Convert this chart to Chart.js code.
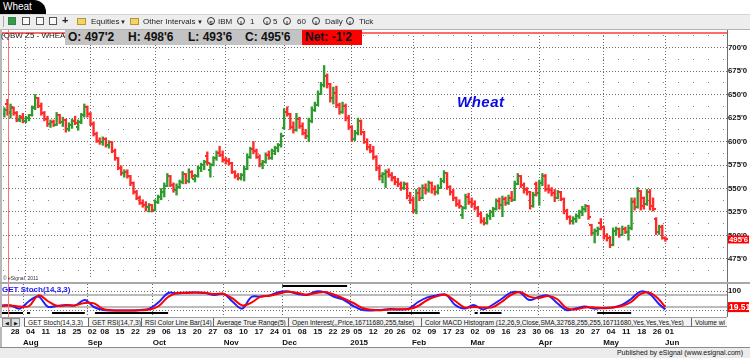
<!DOCTYPE html>
<html lang="en">
<head>
<meta charset="UTF-8">
<title>Wheat - Daily</title>
<style>
    body {
        margin: 0;
        width: 750px;
        height: 358px;
        position: relative;
        overflow: hidden;
        background: #fff;
        font-family: "Liberation Sans", Arial, sans-serif;
    }
    .abs { position: absolute; }
    #tab {
        left: 0; top: 0; width: 46px; height: 14px;
        background: #000; color: #fff;
        border-top-right-radius: 12px;
        font-size: 10px; line-height: 14px; padding-left: 3px; box-sizing: border-box;
    }
    #toolbar {
        left: 0; top: 14px; width: 750px; height: 16px; box-sizing: border-box;
        background: #ededed; border-top: 1px solid #d6d6d6; border-bottom: 1px solid #b4b4b4;
        font-size: 8px; color: #222;
    }
    #toolbar span { position: absolute; top: 2px; line-height: 10px; white-space: nowrap; }
    .ico { width: 8px; height: 8px; border: 1px solid #555; background: #fafafa; box-sizing: border-box; }
    .fold { width: 9px; height: 7px; background: #f3d36b; border: 1px solid #b8962c; box-sizing: border-box; margin-top: 1px; }
    .circ { width: 8px; height: 8px; border: 1px solid #333; border-radius: 50%; box-sizing: border-box;
            font-size: 5.5px; line-height: 6px; text-align: center; font-weight: bold; }
    #hdrName { left: 1px; top: 31px; font-size: 8px; color: #222; }
    #ohlcBox { left: 65px; top: 30px; width: 237px; height: 15px; background: #c3c3c3; }
    #netBox { left: 302px; top: 30px; width: 60px; height: 15px; background: #ff0000; }
    .hv { position: absolute; top: 30px; font-size: 12px; font-weight: bold; line-height: 15px; color: #111; white-space: nowrap; }
    #title { left: 457px; top: 93px; font-size: 15px; font-weight: bold; font-style: italic; color: #0a0ae6; letter-spacing: 0.5px; }
    #copy { left: 3px; top: 275px; font-size: 5px; color: #333; }
    #stochName { left: 2px; top: 285px; font-size: 8px; font-weight: bold; color: #1a1aff; }
    #tabbar {
        left: 0; top: 317px; width: 727px; height: 10px; box-sizing: border-box;
        background: #f3f3f3; border-top: 1px solid #a0a0a0; font-size: 6.6px; color: #111;
    }
    #tabbar span { position: absolute; top: 0; height: 9px; line-height: 9px; white-space: nowrap; overflow: hidden; box-sizing: border-box; }
    .nav { width: 9px; border: 1px solid #888; background: #ddd; font-size: 5px; text-align: center; }
    .tb { border-left: 1px solid #666; border-bottom: 1px solid #888; padding-left: 3px; }
    .sel { background: #fff; }
    #footer {
        left: 0; top: 347px; width: 750px; height: 11px; box-sizing: border-box;
        background: #ececec; border-top: 1px solid #8a8a8a;
        font-size: 7px; color: #111; text-align: right; padding-right: 7px; line-height: 10px;
    }
</style>
<script src="https://cdn.jsdelivr.net/npm/chart.js"></script>
</head>
<body>
    <canvas id="priceChart" class="abs" width="750" height="252" style="left:0;top:30px"></canvas>
    <canvas id="stochChart" class="abs" width="750" height="63" style="left:0;top:284px"></canvas>

    <div id="tab" class="abs">Wheat</div>
    <div id="toolbar" class="abs">
        <span style="left:3px;top:1px;width:1px;height:11px;background:#aaa"></span>
        <span class="ico" style="left:8px;background:#3c9a3c;border-color:#285"></span>
        <span class="ico" style="left:22px"></span>
        <span class="ico" style="left:36px"></span>
        <span class="ico" style="left:49px"></span>
        <span style="left:62px;font-size:11px;font-weight:bold;top:0">+</span>
        <span class="fold" style="left:77px"></span>
        <span style="left:91px">Equities</span>
        <span style="left:120px;font-size:6px">&#9660;</span>
        <span class="fold" style="left:130px"></span>
        <span style="left:143px">Other Intervals</span>
        <span style="left:197px;font-size:6px">&#9660;</span>
        <span class="circ" style="left:207px">S</span>
        <span style="left:218px">IBM</span>
        <span class="circ" style="left:237px">I</span>
        <span style="left:250px">1</span>
        <span class="circ" style="left:263px">I</span>
        <span style="left:273px">5</span>
        <span class="circ" style="left:283px">I</span>
        <span style="left:297px">60</span>
        <span class="circ" style="left:312px">I</span>
        <span style="left:325px">Daily</span>
        <span class="circ" style="left:346px">I</span>
        <span style="left:359px">Tick</span>
    </div>

    <div class="abs" style="left:0;top:32px;width:727px;height:1.5px;background:#ff6a6a"></div>
    <div class="abs" style="left:7.5px;top:30px;width:1.5px;height:287px;background:#ff7272"></div>
    <div class="abs" style="left:0;top:29px;width:2px;height:318px;background:#b8b8b8"></div>
    <div class="abs" style="left:727px;top:30px;width:1px;height:287px;background:#6e6e6e"></div>
    <div class="abs" style="left:0;top:282px;width:750px;height:2px;background:#a8a8a8"></div>

    <div id="hdrName" class="abs">(QBW Z5 - WHEAT</div>
    <div id="ohlcBox" class="abs"></div>
    <div id="netBox" class="abs"></div>
    <div id="hO" class="hv" style="left:68px"></div>
    <div id="hH" class="hv" style="left:128px"></div>
    <div id="hL" class="hv" style="left:188px"></div>
    <div id="hC" class="hv" style="left:245px"></div>
    <div id="hN" class="hv" style="left:305px"></div>

    <div id="title" class="abs">Wheat</div>
    <div id="copy" class="abs">&copy; eSignal, 2011</div>
    <div id="stochName" class="abs">GET Stoch(14,3,3)</div>

    <div id="tabbar" class="abs">
        <span class="nav" style="left:2px">&#9664;</span>
        <span class="nav" style="left:11px">&#9654;</span>
        <span class="tb sel" style="left:24px;width:64px">GET Stoch(14,3,3)</span>
        <span class="tb" style="left:88px;width:53px">GET RSI(14,7,3)</span>
        <span class="tb" style="left:141px;width:72px">RSI Color Line Bar(14)</span>
        <span class="tb" style="left:213px;width:75px">Average True Range(5)</span>
        <span class="tb" style="left:288px;width:133px">Open Interest(,,Price,16711680,255,false)</span>
        <span class="tb" style="left:421px;width:270px">Color MACD Histogram (12,26,9,Close,SMA,32768,255,255,16711680,Yes,Yes,Yes,Yes)</span>
        <span class="tb" style="left:691px;width:36px">Volume wi</span>
    </div>
    <div id="footer" class="abs">Published by eSignal (www.esignal.com)</div>

    <script>
        // daily bars, Jul 23 2014 .. Jun 01 2015 (index = trading day)
        const opens = [629,640,630,636,630,623,626,622,625,628,
            636,646,638,630,624,619,621,618,628,621,
            623,613,618,622,615,621,628,637,629,619,
            608,601,599,603,596,599,590,582,572,566,
            568,563,556,546,540,535,532,530,532,527,
            536,541,546,553,563,554,548,552,557,565,
            558,568,560,563,572,575,585,570,575,582,
            588,586,580,579,577,568,563,561,564,571,
            584,592,590,584,576,578,586,583,590,593,
            596,614,632,629,616,612,624,617,609,606,
            622,634,639,651,660,670,661,646,652,639,
            632,638,625,616,603,609,622,610,600,594,
            590,584,572,563,565,568,564,561,557,555,
            551,555,542,538,527,545,540,551,548,556,
            549,546,551,558,566,552,546,540,534,522,
            529,541,536,533,529,523,515,513,521,525,
            528,537,532,539,535,540,538,555,563,554,
            548,546,531,555,545,556,563,550,548,545,
            540,546,539,526,520,515,518,521,525,528,
            531,511,503,505,513,509,499,497,490,505,
            507,501,507,504,508,536,530,547,540,533,
            546,531,518,504,509,497.25];
        const highs = [636,645,640,637,632,628,630,627,629,638,
            650,647,641,632,627,623,623,631,629,626,
            624,620,624,627,623,630,640,638,631,621,
            610,604,605,604,601,600,592,583,574,570,
            570,564,557,548,542,538,536,534,533,538,
            543,550,556,566,564,556,555,559,568,566,
            571,569,565,574,577,580,589,577,584,590,
            595,590,583,582,578,569,566,566,574,587,
            594,600,592,586,580,588,590,592,595,598,
            609,635,637,630,621,630,626,620,613,625,
            637,642,654,663,681,672,662,658,659,641,
            642,640,628,617,612,625,623,611,603,597,
            595,585,575,567,570,571,567,563,561,557,
            557,556,546,541,549,551,554,555,558,557,
            553,554,561,569,567,553,549,541,538,531,
            544,545,540,537,531,525,519,523,527,530,
            539,540,542,541,543,547,558,566,564,556,
            551,547,546,557,559,566,565,554,551,549,
            548,547,540,528,521,520,523,527,531,533,
            532,512,507,509,518,510,502,499,508,509,
            508,510,509,511,540,540,551,548,541,549,
            549,540,519,511,511,498.75];
        const lows = [626,628,625,628,621,621,620,620,622,627,
            634,636,628,622,616,615,616,617,619,616,
            610,611,614,618,612,619,626,626,617,606,
            599,597,596,594,593,588,580,570,564,562,
            561,553,544,538,533,530,526,525,525,526,
            534,538,541,552,552,546,543,550,555,555,
            556,561,557,562,568,570,575,562,574,580,
            584,578,576,575,566,561,559,559,558,570,
            582,587,582,573,571,577,581,581,586,589,
            594,613,627,613,609,611,614,607,603,600,
            620,632,638,650,658,657,642,640,636,629,
            630,622,613,600,601,607,607,598,591,588,
            581,569,559,556,551,562,558,554,552,548,
            549,539,534,524,523,537,539,544,546,545,
            543,544,550,556,549,543,537,531,529,518,
            528,533,530,527,520,513,511,512,517,520,
            527,528,520,532,533,536,537,554,551,545,
            543,528,530,542,532,553,547,545,542,536,
            539,537,523,517,512,512,514,518,521,525,
            517,500,492,500,506,496,494,487,489,500,
            498,500,502,495,506,527,529,527,528,532,
            527,526,501,501,496,493.75];
        const closes = [634,631,637,630,623,626,622,625,628,636,
            646,638,630,624,619,621,618,628,621,623,
            613,618,622,620,621,628,637,629,619,608,
            601,599,603,596,599,590,582,572,566,568,
            563,556,546,540,535,532,530,532,527,536,
            541,546,553,563,554,548,552,557,565,558,
            568,563,563,572,575,578,577,575,582,588,
            586,580,579,577,568,563,561,564,571,584,
            592,590,584,576,578,586,583,590,593,596,
            606,632,629,616,612,624,617,609,606,622,
            634,639,651,660,670,661,646,652,639,632,
            638,625,616,603,609,622,610,600,594,590,
            584,572,563,565,568,564,561,557,555,551,
            555,542,538,527,545,540,551,548,556,549,
            546,551,558,566,552,546,540,534,531,529,
            541,536,533,529,523,515,513,521,525,528,
            537,532,539,535,540,538,555,563,554,548,
            546,531,543,545,556,563,550,548,545,540,
            546,539,526,520,515,518,521,525,528,531,
            520,503,505,507,509,499,497,490,505,507,
            501,507,504,508,536,530,547,531,533,546,
            531,528,504,509,497,495.75];

        const priceTicks = [475, 500, 525, 550, 575, 600, 625, 650, 675, 700];
        const priceMinorTicks = [462.5, 487.5, 512.5, 537.5, 562.5, 587.5, 612.5, 637.5, 662.5, 687.5, 712.5];

        const weekTickIdx = [3,8,13,18,23,28,32,37,42,47,52,57,62,67,72,77,82,87,91,96,101,106,110,
            114,119,124,128,133,138,143,147,152,157,162,167,172,176,181,186,191,196,201,206,211,215];
        const weekTickLabels = ['28','04','11','18','25','02','08','15','22','29','06','13','20','27',
            '03','10','17','24','01','08','15','22','29','05','12','20','26','02','09','17','23',
            '02','09','16','23','30','06','13','20','27','04','11','18','26','01'];
        const monthTickIdx = [7, 28, 49, 72, 91, 113, 133, 152, 174, 195, 215];
        const monthTickLabels = ['Aug','Sep','Oct','Nov','Dec','2015','Feb','Mar','Apr','May','Jun'];

        // stochastic, read every third bar
        const stochIdx = [0,3,6,9,12,15,18,21,24,27,30,33,36,39,42,45,48,51,54,57,60,63,66,69,72,
            75,78,81,84,87,90,93,96,99,102,105,108,111,114,117,120,123,126,129,132,135,138,141,144,
            147,150,153,156,159,162,165,168,171,174,177,180,183,186,189,192,195,198,201,204,207,210,213,215];
        const stochK = [28,27,12,50,72,22,25,30,28,55, 20,5,3,3,2,5,12,45,90,88,
            92,92,90,80,86,45,12,70,72,78, 95,98,85,80,98,92,70,55,25,5,
            3,5,10,8,12,45,68,78,82,30, 12,30,8,30,60,92,92,55,70,78,
            40,5,12,22,12,15,18,30,60,97, 85,35,8];
        const stochD = [25,28,22,25,78,50,26,28,29,40, 38,10,4,3,3,4,7,25,70,90,
            90,92,91,85,85,62,28,42,72,76, 88,96,90,82,90,95,80,62,40,15,
            6,4,7,9,10,25,55,73,80,50, 18,20,18,18,45,80,95,72,65,75,
            60,15,8,18,18,14,17,25,45,85, 92,58,19.51];
        const stochLevels = [20, 80];
        const stochBottomSpans = [[-0.45,7],[8.3,9.3],[16.4,27],[30.3,54],[125,142],[153.3,154.3],[155,162],[193,204]];
        const stochTopSpans = [[91,112]];

        const GREEN = '#2f9b2f';
        const RED = '#ff2b2b';
        const GRID = '#6c6c6c';
        const xMin = -0.4535, xMax = 235.05;

        Chart.defaults.font.family = "'Liberation Sans', Arial, sans-serif";

        function fmt8(v) {
            const w = Math.floor(v);
            return w + "'" + Math.round((v - w) * 8);
        }
        function isUp(i) { return closes[i] >= opens[i]; }

        function tickImg(color, side) {
            const c = document.createElement('canvas');
            c.width = 5; c.height = 2;
            const g = c.getContext('2d');
            g.fillStyle = color;
            g.fillRect(side === 'open' ? 0 : 3, 0, 2, 2);
            return c;
        }
        const tk = {
            upOpen: tickImg(GREEN, 'open'), upClose: tickImg(GREEN, 'close'),
            dnOpen: tickImg(RED, 'open'), dnClose: tickImg(RED, 'close')
        };

        var last = closes.length - 1;
        document.getElementById('hO').textContent = 'O: ' + fmt8(opens[last]);
        document.getElementById('hH').textContent = 'H: ' + fmt8(highs[last]);
        document.getElementById('hL').textContent = 'L: ' + fmt8(lows[last]);
        document.getElementById('hC').textContent = 'C: ' + fmt8(closes[last]);
        var net = closes[last] - closes[last - 1];
        document.getElementById('hN').textContent = 'Net: ' + (net < 0 ? '-' : '') + fmt8(Math.abs(net));

        // red box with the last value, on the right axis
        const lastValueBox = {
            id: 'lastValueBox',
            afterDraw(chart, args, opts) {
                const y = chart.scales.y.getPixelForValue(opts.value);
                const ctx = chart.ctx;
                ctx.save();
                ctx.fillStyle = '#ff0000';
                ctx.fillRect(chart.chartArea.right + 1, y - opts.h / 2, 21, opts.h);
                ctx.fillStyle = '#fff';
                ctx.font = opts.font;
                ctx.textBaseline = 'middle';
                ctx.fillText(opts.text, chart.chartArea.right + 2, y + 0.5);
                ctx.restore();
            }
        };

        function noPad(s) { s.paddingTop = 0; s.paddingBottom = 0; s.paddingLeft = 0; s.paddingRight = 0; }

        var priceChart = new Chart(document.getElementById('priceChart'), {
            type: 'scatter',
            data: {
                datasets: [
                    {
                        type: 'scatter', order: 1,
                        data: opens.map((v, i) => ({ x: i, y: v })),
                        pointStyle: ctx => isUp(ctx.dataIndex) ? tk.upOpen : tk.dnOpen,
                        pointRadius: 2, pointHoverRadius: 2
                    },
                    {
                        type: 'scatter', order: 1,
                        data: closes.map((v, i) => ({ x: i, y: v })),
                        pointStyle: ctx => isUp(ctx.dataIndex) ? tk.upClose : tk.dnClose,
                        pointRadius: 2, pointHoverRadius: 2
                    },
                    {
                        type: 'bar', order: 2,
                        data: lows.map((v, i) => ({ x: i, y: [v, highs[i]] })),
                        backgroundColor: ctx => isUp(ctx.dataIndex) ? GREEN : RED,
                        barThickness: 1.7, grouped: false
                    }
                ]
            },
            options: {
                responsive: false,
                animation: false,
                events: [],
                layout: { padding: 0 },
                plugins: {
                    legend: { display: false },
                    tooltip: { enabled: false },
                    lastValueBox: { value: closes[last], text: fmt8(closes[last]), h: 8, font: 'bold 7.8px "Liberation Sans", Arial' }
                },
                scales: {
                    x: {
                        type: 'linear', min: xMin, max: xMax, offset: false,
                        afterBuildTicks: s => { s.ticks = monthTickIdx.map(v => ({ value: v })); },
                        ticks: { display: false },
                        grid: { color: GRID, drawTicks: false, offset: false },
                        border: { display: false, dash: [1, 2] },
                        afterFit: s => { s.height = 0; noPad(s); }
                    },
                    y: {
                        type: 'linear', position: 'right', min: 453.64, max: 715.59,
                        afterBuildTicks: s => { s.ticks = priceTicks.map(v => ({ value: v })); },
                        ticks: { callback: v => fmt8(v), color: '#111', padding: 1, font: { size: 7.8, weight: 'bold' } },
                        grid: { color: GRID, drawTicks: false },
                        border: { display: false, dash: [1, 2] },
                        afterFit: s => { s.width = 23; noPad(s); }
                    },
                    yMinor: {
                        type: 'linear', position: 'right', min: 453.64, max: 715.59,
                        afterBuildTicks: s => { s.ticks = priceMinorTicks.map(v => ({ value: v })); },
                        ticks: { display: false },
                        grid: { color: '#808080', drawTicks: false },
                        border: { display: false, dash: [1, 14] },
                        afterFit: s => { s.width = 0; noPad(s); }
                    }
                }
            },
            plugins: [lastValueBox]
        });

        const stochSets = [
            {
                order: 1, data: stochIdx.map((x, k) => ({ x: x, y: stochD[k] })),
                borderColor: '#ff0000', borderWidth: 2, showLine: true, pointRadius: 0, tension: 0.35
            },
            {
                order: 2, data: stochIdx.map((x, k) => ({ x: x, y: stochK[k] })),
                borderColor: '#1f1fff', borderWidth: 2, showLine: true, pointRadius: 0, tension: 0.35
            }
        ];
        stochLevels.forEach(lv => stochSets.push({
            order: 5, data: [{ x: xMin, y: lv }, { x: xMax, y: lv }],
            borderColor: '#a6a6a6', borderWidth: 1.5, showLine: true, pointRadius: 0
        }));
        stochBottomSpans.forEach(sp => stochSets.push({
            order: 3, data: [{ x: sp[0], y: -10 }, { x: sp[1], y: -10 }],
            borderColor: '#000', borderWidth: 2, showLine: true, pointRadius: 0
        }));
        stochTopSpans.forEach(sp => stochSets.push({
            order: 3, data: [{ x: sp[0], y: 125 }, { x: sp[1], y: 125 }],
            borderColor: '#000', borderWidth: 2, showLine: true, pointRadius: 0
        }));

        var stochChart = new Chart(document.getElementById('stochChart'), {
            type: 'scatter',
            data: { datasets: stochSets },
            options: {
                responsive: false,
                animation: false,
                events: [],
                layout: { padding: 0 },
                plugins: {
                    legend: { display: false },
                    tooltip: { enabled: false },
                    lastValueBox: { value: stochD[stochD.length - 1], text: String(stochD[stochD.length - 1]), h: 10, font: 'bold 8.5px "Liberation Sans", Arial' }
                },
                scales: {
                    x: {
                        type: 'linear', position: 'bottom', weight: 0, min: xMin, max: xMax, offset: false,
                        afterBuildTicks: s => { s.ticks = weekTickIdx.map(v => ({ value: v })); },
                        ticks: {
                            callback: (v, k) => weekTickLabels[k], autoSkip: false, maxRotation: 0,
                            align: 'start', padding: 10, color: '#111', font: { size: 8, weight: 'bold' }
                        },
                        grid: { display: false, drawTicks: false },
                        border: { display: false },
                        afterFit: s => { s.height = 20; noPad(s); }
                    },
                    x2: {
                        type: 'linear', position: 'bottom', weight: 1, min: xMin, max: xMax, offset: false,
                        afterBuildTicks: s => { s.ticks = monthTickIdx.map(v => ({ value: v })); },
                        ticks: {
                            callback: (v, k) => monthTickLabels[k], autoSkip: false, maxRotation: 0,
                            align: 'start', padding: 0.6, color: '#111', font: { size: 8, weight: 'bold' }
                        },
                        grid: { color: GRID, drawTicks: false },
                        border: { display: false, dash: [1, 2] },
                        afterFit: s => { s.height = 10; noPad(s); }
                    },
                    y: {
                        type: 'linear', position: 'right', min: -30, max: 135,
                        afterBuildTicks: s => { s.ticks = [0, 100].map(v => ({ value: v })); },
                        ticks: { callback: v => v === 100 ? '100' : '', color: '#111', padding: 1, font: { size: 7.8, weight: 'bold' } },
                        grid: { color: GRID, drawTicks: false },
                        border: { display: false, dash: [1, 2] },
                        afterFit: s => { s.width = 23; noPad(s); }
                    }
                }
            },
            plugins: [lastValueBox]
        });
    </script>
</body>
</html>
